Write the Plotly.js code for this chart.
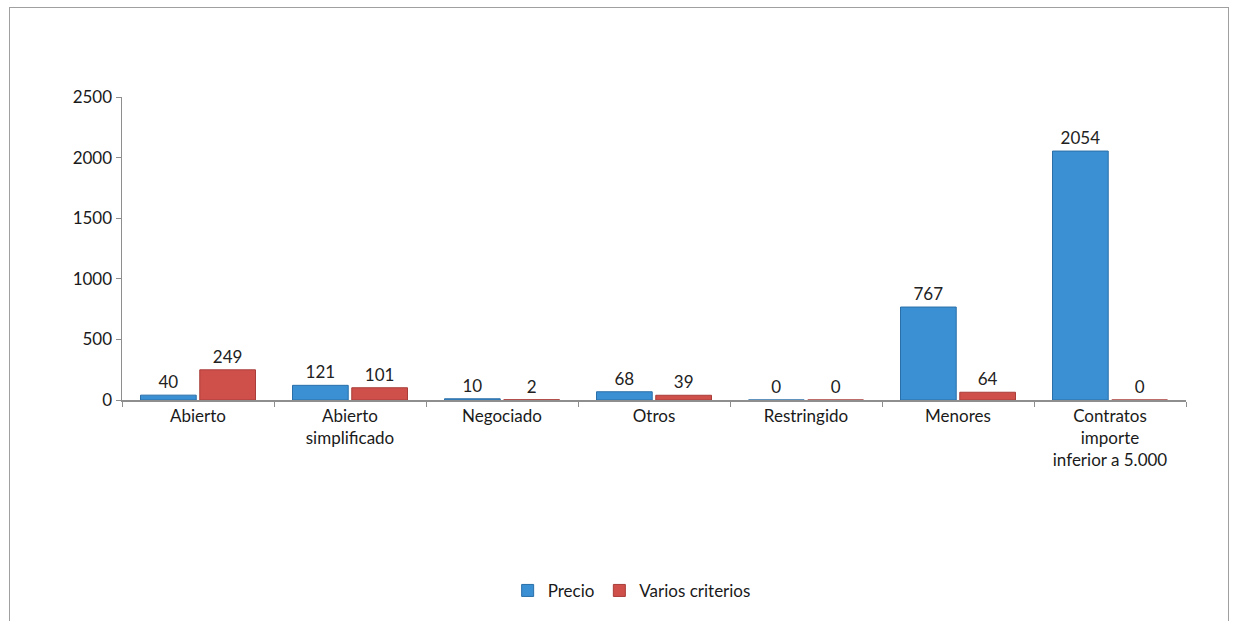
<!DOCTYPE html>
<html>
<head>
<meta charset="utf-8">
<script src="https://cdn.plot.ly/plotly-3.0.1.min.js"></script>
<style>
  html, body { margin: 0; padding: 0; background: #fff; }
  #frame { position: absolute; left: 9px; top: 7px; width: 1218px; height: 640px; border: 1.5px solid #a0a0a0; }
  #chart { position: absolute; left: 0; top: 0; width: 1238px; height: 621px; }
</style>
</head>
<body>
<div id="frame"></div>
<div id="chart"></div>
<script>
// ---- data ----
const categories = ["Abierto", "Abierto<br>simplificado", "Negociado", "Otros", "Restringido", "Menores", "Contratos<br>importe<br>inferior a 5.000"];
const seriesNames = ["Precio", "Varios criterios"];
const precio = [40, 121, 10, 68, 0, 767, 2054];
const variosCriterios = [249, 101, 2, 39, 0, 64, 0];
const yTicks = [0, 500, 1000, 1500, 2000, 2500];

// ---- style ----
const colors = ["#3b8fd3", "#cf504b"];
const edgeColors = ["#2a6fa8", "#a83d39"];
const font = "Lato, 'Open Sans', sans-serif";
const axisColor = "#8e8e8e";

function series(vals, s) {
  return {
    type: "bar", x: categories, y: vals, name: seriesNames[s],
    marker: { color: colors[s], line: { color: edgeColors[s], width: 1 } },
    text: vals.map(String), textposition: "outside", cliponaxis: false,
    textfont: { family: font, size: 17, color: "#222" },
    hoverinfo: "skip"
  };
}

const data = [series(precio, 0), series(variosCriterios, 1)];

const layout = {
  width: 1238, height: 621,
  margin: { l: 122, r: 52, t: 97, b: 221 },
  paper_bgcolor: "rgba(0,0,0,0)", plot_bgcolor: "rgba(0,0,0,0)",
  barmode: "group", bargap: 0.22, bargroupgap: 0.06,
  showlegend: true,
  legend: { orientation: "h", x: 0.479, xanchor: "center", y: -0.63, yanchor: "middle",
    itemwidth: 30, font: { family: font, size: 17, color: "#1a1a1a" }, traceorder: "normal" },
  xaxis: {
    type: "category", showline: true, linecolor: axisColor, linewidth: 1.5,
    ticks: "outside", tickcolor: axisColor, ticklen: 5, tickson: "boundaries",
    showgrid: false, tickfont: { family: font, size: 17, color: "#1a1a1a" }
  },
  yaxis: {
    range: [0, 2500], tickvals: yTicks, ticktext: yTicks.map(String),
    showline: true, linecolor: axisColor, linewidth: 1.5,
    ticks: "outside", tickcolor: axisColor, ticklen: 5,
    showgrid: false, zeroline: false,
    tickfont: { family: font, size: 17, color: "#1a1a1a" }
  }
};

Plotly.newPlot("chart", data, layout, { displayModeBar: false, staticPlot: true });
</script>
</body>
</html>
